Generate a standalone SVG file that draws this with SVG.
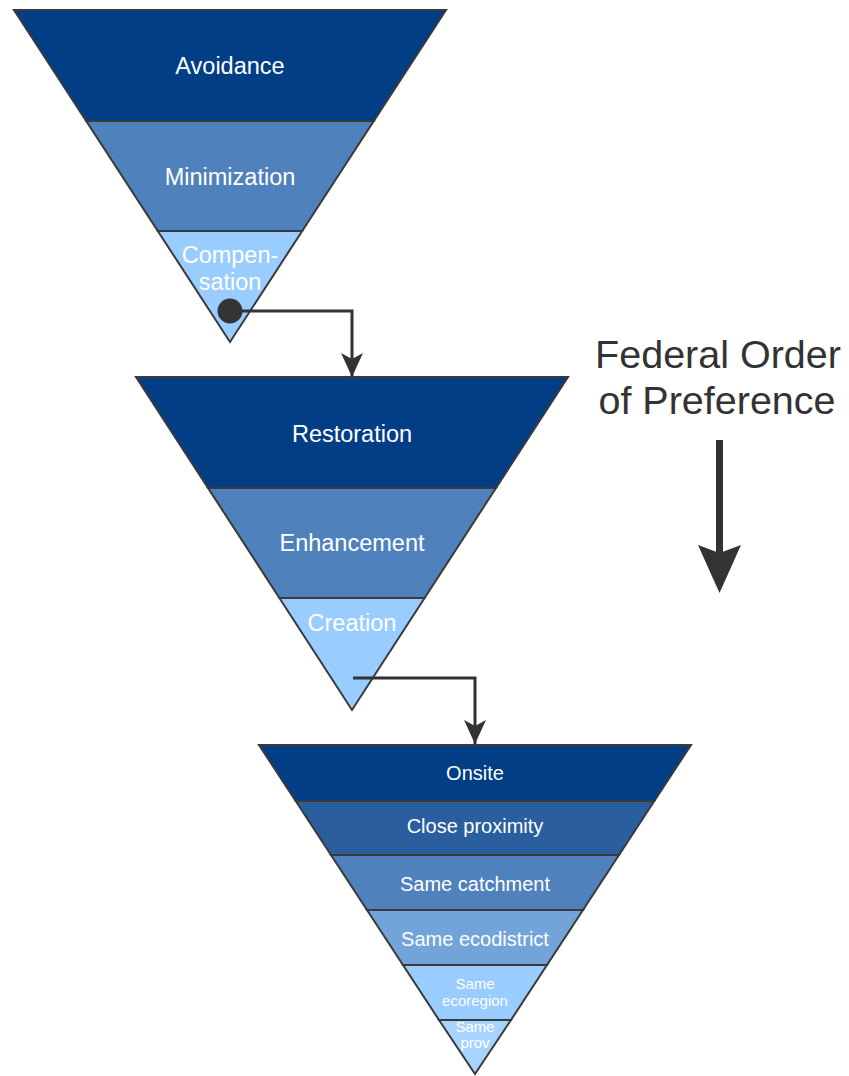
<svg xmlns="http://www.w3.org/2000/svg" width="849" height="1076" viewBox="0 0 849 1076">
<style>
.band{stroke:#3a3a3a;stroke-width:2;stroke-linejoin:miter}
.c1{fill:#013e85}
.c2{fill:#2a5e9f}
.c3{fill:#4f81bd}
.c4{fill:#72a4da}
.c5{fill:#99ccff}
.c6{fill:#a6d3ff}
.lbl{font-family:"Liberation Sans",Arial,sans-serif;fill:#ffffff;text-anchor:middle}
.l23{font-size:23.5px}
.l20{font-size:20px}
.l15{font-size:15px}
.conn{fill:none;stroke:#333333;stroke-width:3}
.title{font-family:"Liberation Sans",Arial,sans-serif;font-size:39.5px;fill:#333333;text-anchor:middle}
</style>
<defs>
<marker id="arr" viewBox="0 0 24 24" refX="24" refY="12" markerWidth="24" markerHeight="24" markerUnits="userSpaceOnUse" orient="auto">
<path d="M0,1 L24,12 L0,23 L6,12 Z" fill="#333333"/>
</marker>
</defs>

<g id="tri1">
<g id="avoidance"><polygon class="band c1" points="14,10 446,10 373.8,121 86.2,121"/><text class="lbl l23" x="230" y="74">Avoidance</text></g>
<g id="minimization"><polygon class="band c3" points="86.2,121 373.8,121 302.2,231 157.8,231"/><text class="lbl l23" x="230" y="185">Minimization</text></g>
<g id="compensation"><polygon class="band c5" points="157.8,231 302.2,231 230,342"/><text class="lbl l23" x="230" y="263">Compen-</text><text class="lbl l23" x="230" y="290">sation</text></g>
</g>

<g id="tri2">
<g id="restoration"><polygon class="band c1" points="136,377 568,377 496,488 208,488"/><text class="lbl l23" x="352" y="442">Restoration</text></g>
<g id="enhancement"><polygon class="band c3" points="208,488 496,488 424.6,598 279.4,598"/><text class="lbl l23" x="352" y="551">Enhancement</text></g>
<g id="creation"><polygon class="band c5" points="279.4,598 424.6,598 352,710"/><text class="lbl l23" x="352" y="631">Creation</text></g>
</g>

<g id="tri3">
<g id="onsite"><polygon class="band c1" points="259,745 691,745 654.3,801 295.7,801"/><text class="lbl l20" x="475" y="780">Onsite</text></g>
<g id="close-proximity"><polygon class="band c2" points="295.7,801 654.3,801 619,855 331,855"/><text class="lbl l20" x="475" y="833">Close proximity</text></g>
<g id="same-catchment"><polygon class="band c3" points="331,855 619,855 583,910 367,910"/><text class="lbl l20" x="475" y="891">Same catchment</text></g>
<g id="same-ecodistrict"><polygon class="band c4" points="367,910 583,910 547,965 403,965"/><text class="lbl l20" x="475" y="946">Same ecodistrict</text></g>
<g id="same-ecoregion"><polygon class="band c5" points="403,965 547,965 511,1020 439,1020"/><text class="lbl l15" x="475" y="989">Same</text><text class="lbl l15" x="475" y="1006">ecoregion</text></g>
<g id="same-prov"><polygon class="band c6" points="439,1020 511,1020 475,1074"/><text class="lbl l15" x="475" y="1032">Same</text><text class="lbl l15" x="475" y="1048">prov</text></g>
</g>

<g id="connectors">
<circle cx="230" cy="311" r="12.5" fill="#333333"/>
<polyline class="conn" points="230,311 352,311 352,377" marker-end="url(#arr)"/>
<polyline class="conn" points="353,678 475,678 475,744" marker-end="url(#arr)"/>
</g>

<g id="preference">
<text class="title" x="718" y="368">Federal Order</text>
<text class="title" x="717" y="414">of Preference</text>
<line x1="719.5" y1="440" x2="719.5" y2="560" stroke="#333333" stroke-width="7"/>
<path d="M698,545 L719.5,593 L741,545 L719.5,553 Z" fill="#333333"/>
</g>
</svg>
